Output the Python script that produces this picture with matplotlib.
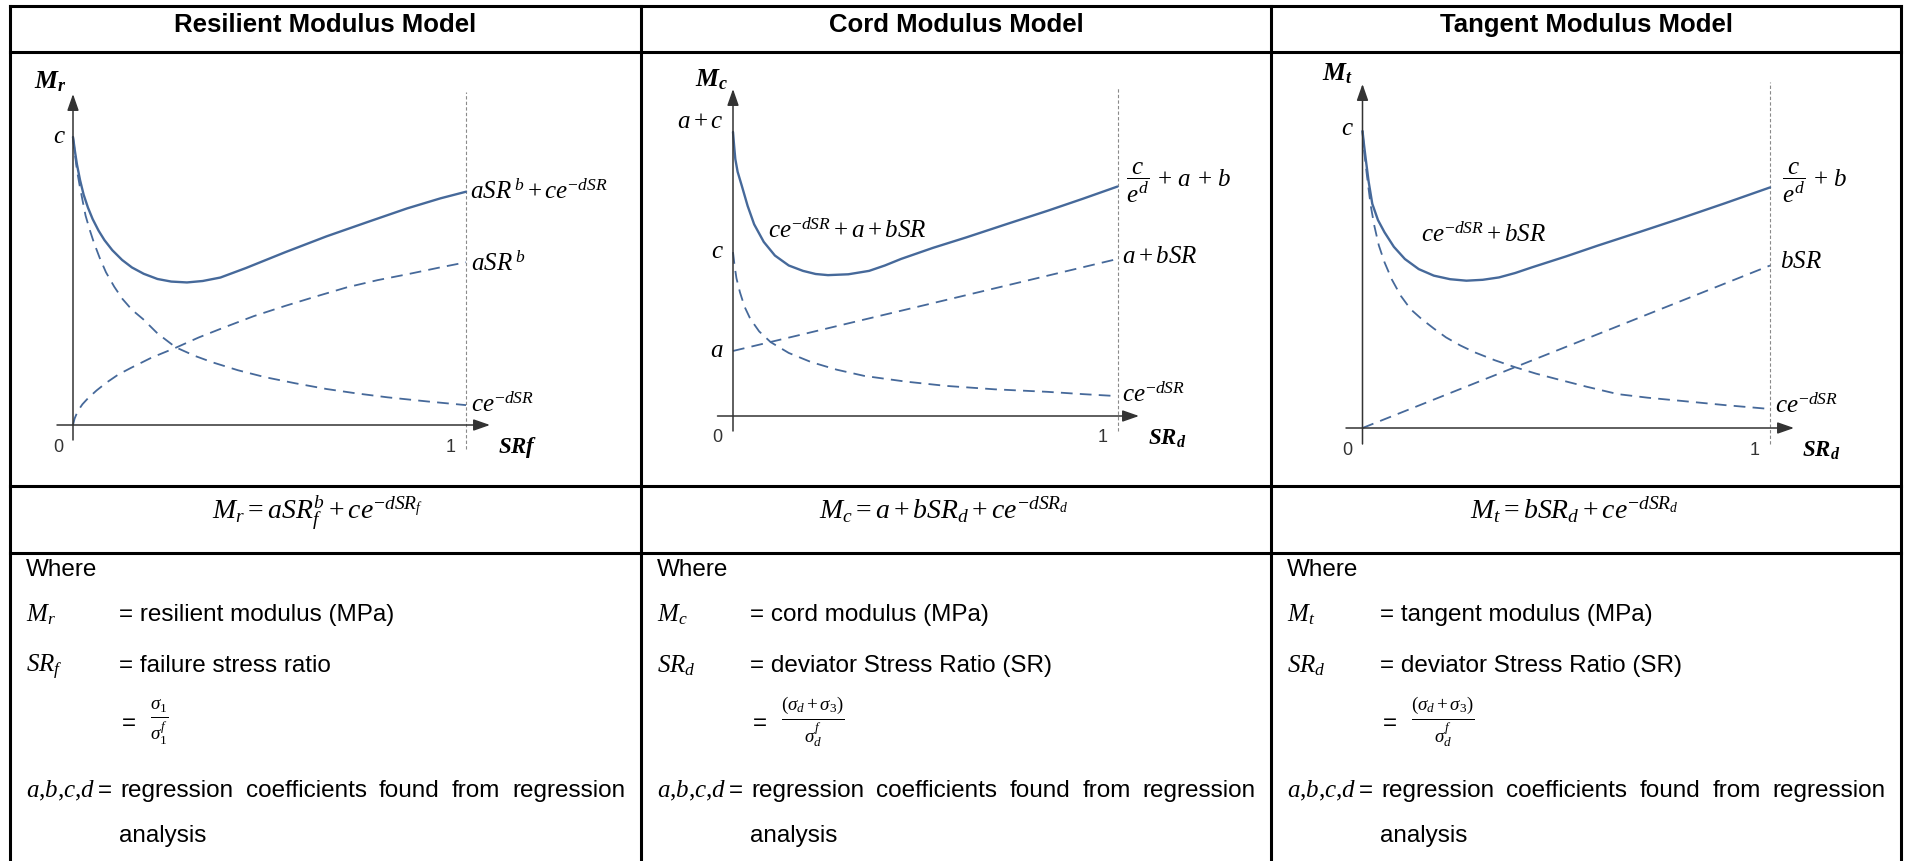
import matplotlib
matplotlib.use("Agg")
import matplotlib.pyplot as plt

W, H, DPI = 1907, 862, 100

plt.rcParams["mathtext.fontset"] = "custom"
plt.rcParams["mathtext.rm"] = "Liberation Serif"
plt.rcParams["mathtext.it"] = "Liberation Serif:italic"
plt.rcParams["mathtext.bf"] = "Liberation Serif:bold"
plt.rcParams["mathtext.bfit"] = "Liberation Serif:italic:bold"

# ---------------- data ----------------
titles = ["Resilient Modulus Model", "Cord Modulus Model", "Tangent Modulus Model"]
formulas = [r"$M_r = aSR_f^b + ce^{-dSR_f}$",
            r"$M_c = a + bSR_d + ce^{-dSR_d}$",
            r"$M_t = bSR_d + ce^{-dSR_d}$"]

# resilient model sketch: SR on x (0..1), modulus scaled so that c = 1
res_sum_x = [0, 0.005, 0.01, 0.018, 0.027, 0.038, 0.05, 0.065, 0.08, 0.1, 0.125, 0.15, 0.18,
             0.215, 0.25, 0.29, 0.33, 0.375, 0.44, 0.54, 0.645, 0.75, 0.85, 0.935, 1.0]
res_sum_y = [1.0, 0.95, 0.905, 0.85, 0.80, 0.755, 0.715, 0.675, 0.642, 0.607, 0.573, 0.547, 0.525,
             0.507, 0.498, 0.495, 0.500, 0.512, 0.545, 0.60, 0.655, 0.705, 0.752, 0.787, 0.81]
res_exp_x = [0, 0.005, 0.01, 0.017, 0.025, 0.032, 0.042, 0.053, 0.068, 0.084, 0.105, 0.126, 0.15,
             0.178, 0.215, 0.261, 0.31, 0.354, 0.42, 0.489, 0.565, 0.645, 0.72, 0.801, 0.9, 1.0]
res_exp_y = [1.0, 0.94, 0.885, 0.831, 0.775, 0.727, 0.68, 0.634, 0.58, 0.530, 0.48, 0.4375, 0.40,
             0.368, 0.318, 0.270, 0.24, 0.218, 0.19, 0.166, 0.145, 0.125, 0.11, 0.096, 0.082, 0.069]
res_pow_x = [0, 0.004, 0.012, 0.024, 0.0375, 0.06, 0.084, 0.115, 0.147, 0.2, 0.261, 0.32, 0.385,
             0.46, 0.541, 0.62, 0.697, 0.775, 0.853, 0.93, 1.0]
res_pow_y = [0, 0.022, 0.048, 0.072, 0.092, 0.12, 0.146, 0.175, 0.198, 0.234, 0.268, 0.304, 0.339,
             0.378, 0.414, 0.447, 0.478, 0.503, 0.524, 0.546, 0.565]

# cord model sketch, scaled so that a + c = 1
cord_sum_x = [0, 0.003, 0.006, 0.012, 0.023, 0.038, 0.055, 0.08, 0.109, 0.145, 0.182, 0.215, 0.247,
              0.3, 0.354, 0.395, 0.437, 0.52, 0.607, 0.71, 0.819, 0.91, 1.0]
cord_sum_y = [1.0, 0.95, 0.905, 0.86, 0.81, 0.74, 0.675, 0.613, 0.565, 0.53, 0.511, 0.50, 0.496,
              0.499, 0.511, 0.53, 0.553, 0.592, 0.629, 0.675, 0.723, 0.765, 0.808]
cord_exp_x = [0, 0.004, 0.009, 0.018, 0.03, 0.045, 0.068, 0.098, 0.145, 0.203, 0.27, 0.342, 0.45,
              0.554, 0.68, 0.819, 0.91, 1.0]
cord_exp_y = [0.577, 0.53, 0.485, 0.436, 0.385, 0.342, 0.298, 0.26, 0.222, 0.19, 0.163, 0.141, 0.121,
              0.106, 0.094, 0.085, 0.077, 0.07]
cord_lin_x = [0, 1.0]
cord_lin_y = [0.229, 0.553]

# tangent model sketch, scaled so that c = 1
tan_sum_x = [0, 0.004, 0.008, 0.015, 0.024, 0.038, 0.054, 0.077, 0.104, 0.138, 0.175, 0.215, 0.255,
             0.295, 0.335, 0.375, 0.416, 0.5, 0.577, 0.68, 0.777, 0.89, 1.0]
tan_sum_y = [1.0, 0.95, 0.905, 0.83, 0.755, 0.70, 0.659, 0.61, 0.569, 0.535, 0.513, 0.501, 0.496,
             0.499, 0.507, 0.522, 0.541, 0.578, 0.614, 0.66, 0.704, 0.757, 0.810]
tan_exp_x = [0, 0.005, 0.01, 0.014, 0.02, 0.029, 0.04, 0.054, 0.072, 0.094, 0.118, 0.145, 0.175,
             0.205, 0.24, 0.275, 0.325, 0.376, 0.426, 0.476, 0.55, 0.627, 0.7, 0.777, 0.89, 1.0]
tan_exp_y = [1.0, 0.92, 0.86, 0.816, 0.75, 0.681, 0.615, 0.558, 0.5, 0.445, 0.40, 0.367, 0.335,
             0.305, 0.278, 0.255, 0.228, 0.204, 0.183, 0.165, 0.139, 0.114, 0.102, 0.092, 0.077, 0.064]
tan_lin_x = [0, 1.0]
tan_lin_y = [0, 0.547]

where_symbols = [[r"$M_r$", r"$SR_f$"], [r"$M_c$", r"$SR_d$"], [r"$M_t$", r"$SR_d$"]]
where_defs = [["= resilient modulus (MPa)", "= failure stress ratio"],
              ["= cord modulus (MPa)", "= deviator Stress Ratio (SR)"],
              ["= tangent modulus (MPa)", "= deviator Stress Ratio (SR)"]]
ratio_fracs = [r"$\frac{\sigma_1}{\sigma_1^f}$",
               r"$\frac{(\sigma_d+\sigma_3)}{\sigma_d^f}$",
               r"$\frac{(\sigma_d+\sigma_3)}{\sigma_d^f}$"]
coef_symbol = r"$a{,}b{,}c{,}d$"
coef_words = ["regression", "coefficients", "found", "from", "regression"]
coef_tail = "analysis"

# ---------------- figure ----------------
BLUE = "#46699a"
AXC = "#333333"
SERIF = "Liberation Serif"
SANS = "Liberation Sans"

fig = plt.figure(figsize=(W / DPI, H / DPI), dpi=DPI)
bg = fig.add_axes([0, 0, 1, 1])
bg.set_xlim(0, W)
bg.set_ylim(H, 0)
bg.axis("off")

# table grid
col_left = [10, 641, 1271]
col_right = [641, 1271, 1901]
rule = dict(color="black", lw=2.2, solid_capstyle="projecting")
for y in (7, 53, 487, 554):
    bg.plot([10, 1901], [y, y], **rule)
for x in (10, 641, 1271, 1901):
    bg.plot([x, x], [7, H + 5], **rule)

for i, t in enumerate(titles):
    cx = (col_left[i] + col_right[i]) / 2
    bg.text(cx, 32, t, ha="center", va="baseline", fontsize=18.5,
            fontweight="bold", family=SANS)

# ---------------- sketches ----------------
panels = [
    dict(ox=73, oy=426, ux=393, uy=288, xspan=(57, 490), yspan=(441, 95), guide=(93, 450),
         curves=[(res_sum_x, res_sum_y, "-"), (res_exp_x, res_exp_y, "--"), (res_pow_x, res_pow_y, "--")]),
    dict(ox=733, oy=417, ux=384.5, uy=284, xspan=(717.5, 1139), yspan=(432, 90), guide=(88, 432),
         curves=[(cord_sum_x, cord_sum_y, "-"), (cord_exp_x, cord_exp_y, "--"), (cord_lin_x, cord_lin_y, "--")]),
    dict(ox=1362.5, oy=429, ux=407.5, uy=297, xspan=(1346, 1794), yspan=(445, 85), guide=(83, 445),
         curves=[(tan_sum_x, tan_sum_y, "-"), (tan_exp_x, tan_exp_y, "--"), (tan_lin_x, tan_lin_y, "--")]),
]

for p in panels:
    ax = fig.add_axes([p["ox"] / W, (H - p["oy"]) / H, p["ux"] / W, p["uy"] / H])
    ax.set_xlim(0, 1)
    ax.set_ylim(0, 1)
    ax.axis("off")
    to_x = lambda px: (px - p["ox"]) / p["ux"]
    to_y = lambda py: (p["oy"] - py) / p["uy"]

    # guide line at SR = 1
    ax.plot([1, 1], [to_y(p["guide"][1]), to_y(p["guide"][0])], color="#8a8a8a",
            lw=0.8, dashes=(3, 2), clip_on=False)
    # axes with arrow heads
    arrow = dict(arrowstyle="-|>,head_length=1.0,head_width=0.35", color=AXC,
                 lw=1.1, shrinkA=0, shrinkB=0)
    ax.annotate("", xy=(to_x(p["xspan"][1]), 0), xytext=(to_x(p["xspan"][0]), 0),
                arrowprops=arrow, annotation_clip=False)
    ax.annotate("", xy=(0, to_y(p["yspan"][1])), xytext=(0, to_y(p["yspan"][0])),
                arrowprops=arrow, annotation_clip=False)

    for xs, ys, ls in p["curves"]:
        if ls == "-":
            ax.plot(xs, ys, color=BLUE, lw=1.7, clip_on=False,
                    solid_joinstyle="round", solid_capstyle="round")
        else:
            ax.plot(xs, ys, color=BLUE, lw=1.3, dashes=(6.5, 4), clip_on=False)

lab = dict(family=SERIF, fontsize=18, va="baseline")
tick = dict(family=SANS, fontsize=13, color="#333333", ha="center", va="baseline")
axm = dict(family=SERIF, fontsize=18.5, va="baseline")
axs = dict(family=SERIF, fontsize=16.5, va="baseline")

# resilient panel labels
bg.text(34, 88, r"$\mathbfit{M}_{\mathbfit{r}}$", ha="left", **axm)
bg.text(66, 143, r"$c$", ha="right", **lab)
bg.text(58, 452, "0", **tick)
bg.text(451, 452, "1", **tick)
bg.text(498, 453, r"$\mathbfit{SRf}$", ha="left", **axs)
bg.text(470, 199, r"$aSR^{\,b}+ce^{-dSR}$", ha="left", **lab)
bg.text(471, 271, r"$aSR^{\,b}$", ha="left", **lab)
bg.text(471, 412, r"$ce^{-dSR}$", ha="left", **lab)

# cord panel labels
bg.text(695, 86, r"$\mathbfit{M}_{\mathbfit{c}}$", ha="left", **axm)
bg.text(724, 128, r"$a+c$", ha="right", **lab)
bg.text(724, 258, r"$c$", ha="right", **lab)
bg.text(724, 357, r"$a$", ha="right", **lab)
bg.text(717.5, 442, "0", **tick)
bg.text(1103, 442, "1", **tick)
bg.text(1148, 445, r"$\mathbfit{SR}_{\mathbfit{d}}$", ha="left", **axs)
bg.text(1126, 183, r"$\dfrac{c}{e^d}\,+\,a\,+\,b$", ha="left", va="center", family=SERIF, fontsize=18)
bg.text(768, 238, r"$ce^{-dSR}+a+bSR$", ha="left", **lab)
bg.text(1122, 263, r"$a+bSR$", ha="left", **lab)
bg.text(1122, 402, r"$ce^{-dSR}$", ha="left", **lab)

# tangent panel labels
bg.text(1322, 80, r"$\mathbfit{M}_{\mathbfit{t}}$", ha="left", **axm)
bg.text(1354, 135, r"$c$", ha="right", **lab)
bg.text(1347, 455, "0", **tick)
bg.text(1755, 455, "1", **tick)
bg.text(1802, 457, r"$\mathbfit{SR}_{\mathbfit{d}}$", ha="left", **axs)
bg.text(1782, 183, r"$\dfrac{c}{e^d}\,+\,b$", ha="left", va="center", family=SERIF, fontsize=18)
bg.text(1421, 242, r"$ce^{-dSR}+bSR$", ha="left", **lab)
bg.text(1780, 268, r"$bSR$", ha="left", **lab)
bg.text(1775, 413, r"$ce^{-dSR}$", ha="left", **lab)

# ---------------- formula row ----------------
form_x = [318, 944, 1574]
for x, f in zip(form_x, formulas):
    bg.text(x, 519, f, ha="center", va="baseline", family=SERIF, fontsize=20)

# ---------------- definitions ----------------
body = dict(family=SANS, fontsize=17.5, va="baseline")
sym = dict(family=SERIF, fontsize=18, va="baseline")
renderer = fig.canvas.get_renderer()
for i in range(3):
    lx = col_left[i] + 16
    tab = col_left[i] + 109
    bg.text(lx, 576, "Where", ha="left", **body)
    for j, yb in enumerate((621, 672)):
        bg.text(lx, yb, where_symbols[i][j], ha="left", **sym)
        bg.text(tab, yb, where_defs[i][j], ha="left", **body)
    bg.text(tab + 3, 730, "=", ha="left", **body)
    bg.text(tab + 31, 722, ratio_fracs[i], ha="left", va="center",
            family=SERIF, fontsize=19.5)
    bg.text(lx, 797, coef_symbol, ha="left", **sym)
    bg.text(tab - 21, 797, "=", ha="left", **body)

    # justified line: spread the words between the tab stop and the cell edge
    words = [bg.text(0, 797, w, ha="left", **body) for w in coef_words]
    widths = [t.get_window_extent(renderer).width for t in words]
    start, end = tab + 1, col_right[i] - 15
    gap = (end - start - sum(widths)) / (len(words) - 1)
    x = start
    for t, w in zip(words, widths):
        t.set_x(x)
        x += w + gap
    bg.text(tab, 842, coef_tail, ha="left", **body)

fig.savefig("out.png", dpi=DPI)
